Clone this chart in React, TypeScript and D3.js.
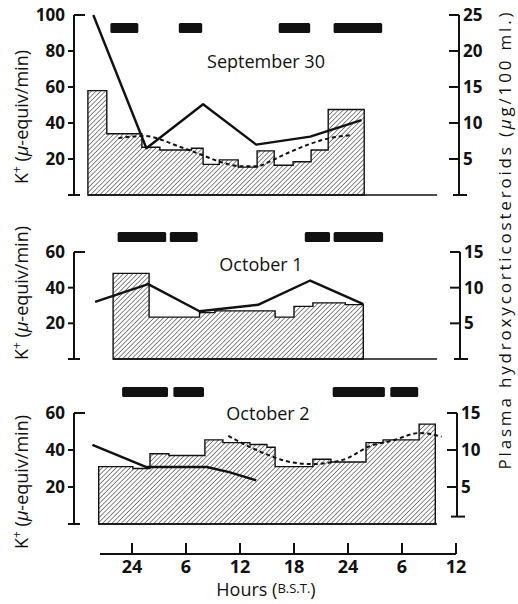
import * as d3 from "d3";

// hours after midnight of the first night; tick labels are clock hours
const hourTicks = [0, 6, 12, 18, 24, 30, 36];
const hourLabels = ["24", "6", "12", "18", "24", "6", "12"];

// September 30
const sep30Edges = [-4.9, -2.8, 1.1, 3.1, 6.6, 7.9, 9.7, 11.8, 13.9, 15.8, 17.9, 19.9, 21.8, 25.8];
const sep30K = [58, 34, 26.5, 25, 26, 17, 19.5, 15.5, 24.5, 16.5, 18.5, 25, 47.5];
const sep30Steroid: [number, number][] = [[-4.3, 25], [1.6, 6.5], [7.9, 12.6], [13.8, 7.0], [19.8, 8.1], [25.5, 10.4]];
const sep30Dashed: [number, number][] = [[-1.5, 7.9], [1.3, 8.2], [5.3, 6.7], [7.9, 5.5], [9.8, 4.6], [12, 4.0], [13.9, 4.0], [15.7, 4.9], [17.6, 6.0], [22, 7.9], [24.2, 8.3]];
const sep30Bars: [number, number][] = [[-2.4, 0.7], [5.2, 7.8], [16.3, 19.8], [22.4, 27.8]];

// October 1
const oct1Edges = [-2.1, 1.9, 7.5, 9.2, 15.9, 18, 20.1, 23.7, 25.7];
const oct1K = [48, 23.5, 26, 27, 23.5, 29.5, 31.5, 30.5];
const oct1Steroid: [number, number][] = [[-4.1, 8.0], [1.8, 10.5], [7.5, 6.7], [14, 7.6], [19.8, 11.0], [25.7, 7.7]];
const oct1Bars: [number, number][] = [[-1.6, 3.8], [4.2, 7.3], [19.2, 22], [22.4, 27.9]];

// October 2
const oct2Edges = [-3.7, 0.1, 2, 4.1, 8.1, 10.1, 13.1, 15, 15.9, 20.1, 22.1, 26, 27.9, 31.9, 33.7];
const oct2K = [31, 30, 38, 37, 45.5, 44, 43, 41.5, 31, 35, 33.5, 44, 45.5, 54];
const oct2Steroid: [number, number][] = [[-4.4, 10.7], [1.6, 7.7], [8.3, 7.7], [10.8, 7.0], [13.8, 5.9]];
const oct2Dashed: [number, number][] = [[10.7, 11.9], [14.2, 9.8], [17.9, 8.3], [20, 8.1], [23.5, 8.7], [26.4, 10.5], [29, 11.3], [32, 12.3], [34.4, 11.8]];
const oct2Bars: [number, number][] = [[-1.1, 4], [4.6, 8], [22.3, 28.1], [28.7, 31.8]];

const FONT = "'Open Sans', 'DejaVu Sans', sans-serif";
const W = 518;
const H = 604;

const x = d3.scaleLinear([0, 36], [132, 456]);

interface PanelProps {
  title: string;
  edges: number[];
  k: number[];
  steroid: [number, number][];
  dashed?: [number, number][];
  bars: [number, number][];
  yTop: number;
  yBot: number;
  kMax: number;
  kTicks: number[];
  rMax: number;
  rTicks: number[];
  barY: number;
  titleX: number;
  titleY: number;
  labelY: number;
  rightX: number;
  rightEnd?: number; // right axis stops a little short of zero on the last panel
}

function Panel(p: PanelProps) {
  const yK = d3.scaleLinear([0, p.kMax], [p.yBot, p.yTop]);
  const yR = d3.scaleLinear([0, p.rMax], [p.yBot, p.yTop]);
  const leftX = 74;
  const rBottom = yR(p.rightEnd ?? 0);

  // step outline of the K+ histogram
  const pts: [number, number][] = [[x(p.edges[0]), yK(0)]];
  p.k.forEach((v, i) => {
    pts.push([x(p.edges[i]), yK(v)]);
    pts.push([x(p.edges[i + 1]), yK(v)]);
  });
  pts.push([x(p.edges[p.edges.length - 1]), yK(0)]);
  const histPath = d3.line()(pts) + "Z";

  const solid = d3.line<[number, number]>().x(d => x(d[0])).y(d => yR(d[1]))(p.steroid);
  const dashed = p.dashed
    ? d3.line<[number, number]>().curve(d3.curveMonotoneX).x(d => x(d[0])).y(d => yR(d[1]))(p.dashed)
    : null;

  return (
    <g>
      {p.bars.map(([a, b], i) => (
        <rect key={i} x={x(a)} y={p.barY} width={x(b) - x(a)} height={10} rx={1.5} fill="#111" />
      ))}
      <text x={p.titleX} y={p.titleY} textAnchor="middle" fontSize={18} fontFamily={FONT} fill="#111">
        {p.title}
      </text>

      <path d={histPath} fill="url(#hatch)" stroke="#111" strokeWidth={1.4} />
      <line x1={x(p.edges[0])} x2={x(33.9)} y1={yK(0)} y2={yK(0)} stroke="#111" strokeWidth={1.6} />
      {dashed && <path d={dashed} fill="none" stroke="#111" strokeWidth={2} strokeDasharray="4,3" />}
      <path d={solid!} fill="none" stroke="#111" strokeWidth={2.4} strokeLinejoin="round" />

      {/* left axis */}
      <line x1={leftX} x2={leftX} y1={yK(p.kMax)} y2={yK(0)} stroke="#111" strokeWidth={2} />
      <line x1={leftX - 6} x2={leftX + 6} y1={yK(0)} y2={yK(0)} stroke="#111" strokeWidth={2} />
      {p.kTicks.map(t => (
        <g key={t}>
          <line
            x1={t === p.kMax ? leftX : leftX - 6}
            x2={t === p.kMax ? leftX + 11 : leftX}
            y1={yK(t)} y2={yK(t)} stroke="#111" strokeWidth={2}
          />
          <text x={leftX - 9} y={yK(t)} dy="0.35em" textAnchor="end" fontSize={17} fontWeight={700} fontFamily={FONT} fill="#111">
            {t}
          </text>
        </g>
      ))}

      {/* right axis */}
      <line x1={p.rightX} x2={p.rightX} y1={yR(p.rMax)} y2={rBottom} stroke="#111" strokeWidth={2} />
      <line x1={p.rightX - 6} x2={p.rightX + 8} y1={rBottom} y2={rBottom} stroke="#111" strokeWidth={2} />
      {p.rTicks.map(t => (
        <g key={t}>
          <line x1={p.rightX - 10} x2={p.rightX} y1={yR(t)} y2={yR(t)} stroke="#111" strokeWidth={2} />
          <text x={p.rightX + 4} y={yR(t)} dy="0.35em" fontSize={17} fontWeight={700} fontFamily={FONT} fill="#111">
            {t}
          </text>
        </g>
      ))}

      {/* left axis title */}
      <text transform={`translate(28,${p.labelY}) rotate(-90)`} textAnchor="middle" fontSize={18} fontFamily={FONT} fill="#111">
        K<tspan fontSize={12} dy="-7">+</tspan>
        <tspan dy="7">  (</tspan>
        <tspan fontStyle="italic">µ</tspan>-equiv/min)
      </text>
    </g>
  );
}

export default function App() {
  return (
    <svg width={W} height={H} style={{ position: "absolute", left: 0, top: 0, background: "white" }}>
      <defs>
        <pattern id="hatch" patternUnits="userSpaceOnUse" width={3.3} height={3.3} patternTransform="rotate(45)">
          <line x1={0} y1={0} x2={0} y2={3.3} stroke="#111" strokeWidth={1} />
        </pattern>
      </defs>

      <Panel
        title="September 30" edges={sep30Edges} k={sep30K} steroid={sep30Steroid} dashed={sep30Dashed} bars={sep30Bars}
        yTop={15} yBot={195} kMax={100} kTicks={[20, 40, 60, 80, 100]} rMax={25} rTicks={[5, 10, 15, 20, 25]}
        barY={23} titleX={266} titleY={68} labelY={117} rightX={459}
      />
      <Panel
        title="October 1" edges={oct1Edges} k={oct1K} steroid={oct1Steroid} bars={oct1Bars}
        yTop={252} yBot={359} kMax={60} kTicks={[20, 40, 60]} rMax={15} rTicks={[5, 10, 15]}
        barY={232} titleX={261} titleY={271} labelY={293} rightX={460}
      />
      <Panel
        title="October 2" edges={oct2Edges} k={oct2K} steroid={oct2Steroid} dashed={oct2Dashed} bars={oct2Bars}
        yTop={413} yBot={524} kMax={60} kTicks={[20, 40, 60]} rMax={15} rTicks={[5, 10, 15]}
        barY={387} titleX={268} titleY={420} labelY={482} rightX={457} rightEnd={1}
      />

      {/* shared right title */}
      <text transform="translate(511,241) rotate(-90)" textAnchor="middle" fontSize={17} fontFamily={FONT} fill="#111"
        textLength={457} lengthAdjust="spacing">
        Plasma hydroxycorticosteroids (<tspan fontStyle="italic">µ</tspan>g/100 ml.)
      </text>

      {/* hours axis */}
      <line x1={100} x2={x(36)} y1={554} y2={554} stroke="#111" strokeWidth={2} />
      {hourTicks.map((h, i) => (
        <g key={i}>
          <line x1={x(h)} x2={x(h)} y1={543} y2={554} stroke="#111" strokeWidth={2} />
          <text x={x(h)} y={573} textAnchor="middle" fontSize={18} fontWeight={700} fontFamily={FONT} fill="#111">
            {hourLabels[i]}
          </text>
        </g>
      ))}
      <text x={266} y={596} textAnchor="middle" fontSize={18} fontFamily={FONT} fill="#111">
        Hours (<tspan fontSize={13} dy="-3">B.S.T.</tspan><tspan dy="3">)</tspan>
      </text>
    </svg>
  );
}
